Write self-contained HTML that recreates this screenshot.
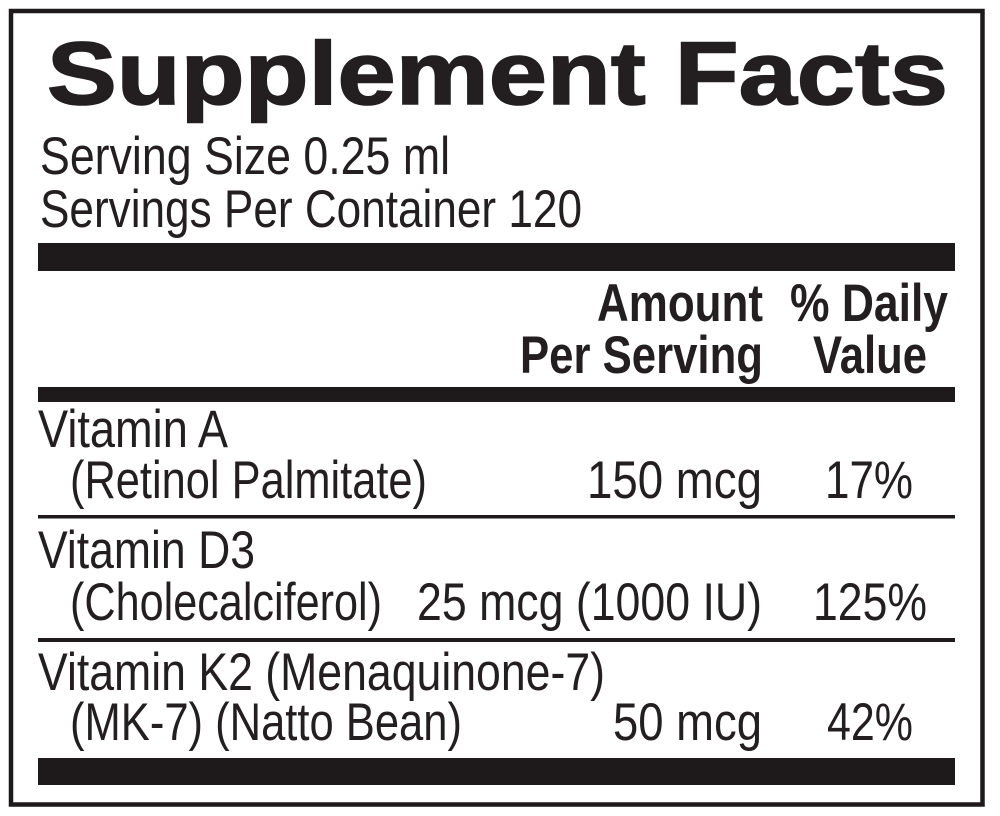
<!DOCTYPE html>
<html>
<head>
<meta charset="utf-8">
<style>
  html, body { margin: 0; padding: 0; background: #fff; }
  body { width: 1000px; height: 816px; overflow: hidden; }
  svg { display: block; }
  text { font-family: "Liberation Sans", Arial, sans-serif; fill: #231f20; }
  .r { font-size: 53px; font-weight: 400; }
  .b { font-size: 53px; font-weight: 700; }
  .t { font-size: 89px; font-weight: 700; stroke: #231f20; stroke-width: 1.6px; }
</style>
</head>
<body>
<svg width="1000" height="816" viewBox="0 0 1000 816" xmlns="http://www.w3.org/2000/svg">
  <rect x="0" y="0" width="1000" height="816" fill="#fff"/>
  <!-- outer border -->
  <rect x="11" y="11" width="971.5" height="793.5" fill="none" stroke="#1e1a1b" stroke-width="4.5"/>

  <!-- Title -->
  <text class="t" x="47" y="104" textLength="901" lengthAdjust="spacingAndGlyphs">Supplement Facts</text>

  <!-- Serving info -->
  <text class="r" x="40" y="174" textLength="410" lengthAdjust="spacingAndGlyphs">Serving Size 0.25 ml</text>
  <text class="r" x="40" y="227" textLength="542" lengthAdjust="spacingAndGlyphs">Servings Per Container 120</text>

  <!-- bars -->
  <rect x="38" y="243" width="917" height="28" fill="#1e1a1b"/>
  <rect x="38" y="387" width="917" height="15" fill="#1e1a1b"/>
  <rect x="38" y="515" width="917" height="3.5" fill="#1e1a1b"/>
  <rect x="38" y="638" width="917" height="4" fill="#1e1a1b"/>
  <rect x="38" y="758" width="917" height="27" fill="#1e1a1b"/>

  <!-- header -->
  <text class="b" x="597" y="321" textLength="166" lengthAdjust="spacingAndGlyphs">Amount</text>
  <text class="b" x="790" y="321" textLength="158" lengthAdjust="spacingAndGlyphs">% Daily</text>
  <text class="b" x="520" y="373" textLength="243" lengthAdjust="spacingAndGlyphs">Per Serving</text>
  <text class="b" x="813" y="373" textLength="114" lengthAdjust="spacingAndGlyphs">Value</text>

  <!-- Vitamin A -->
  <text class="r" x="38" y="447" textLength="190" lengthAdjust="spacingAndGlyphs">Vitamin A</text>
  <text class="r" x="70" y="498" textLength="357" lengthAdjust="spacingAndGlyphs">(Retinol Palmitate)</text>
  <text class="r" x="587" y="498" textLength="175" lengthAdjust="spacingAndGlyphs">150 mcg</text>
  <text class="r" x="825" y="498" textLength="88" lengthAdjust="spacingAndGlyphs">17%</text>

  <!-- Vitamin D3 -->
  <text class="r" x="38" y="568" textLength="217" lengthAdjust="spacingAndGlyphs">Vitamin D3</text>
  <text class="r" x="70" y="620" textLength="312" lengthAdjust="spacingAndGlyphs">(Cholecalciferol)</text>
  <text class="r" x="417" y="620" textLength="345" lengthAdjust="spacingAndGlyphs">25 mcg (1000 IU)</text>
  <text class="r" x="813" y="620" textLength="114" lengthAdjust="spacingAndGlyphs">125%</text>

  <!-- Vitamin K2 -->
  <text class="r" x="38" y="690" textLength="567" lengthAdjust="spacingAndGlyphs">Vitamin K2 (Menaquinone-7)</text>
  <text class="r" x="70" y="740" textLength="392" lengthAdjust="spacingAndGlyphs">(MK-7) (Natto Bean)</text>
  <text class="r" x="613" y="740" textLength="149" lengthAdjust="spacingAndGlyphs">50 mcg</text>
  <text class="r" x="827" y="740" textLength="86" lengthAdjust="spacingAndGlyphs">42%</text>
</svg>
</body>
</html>
